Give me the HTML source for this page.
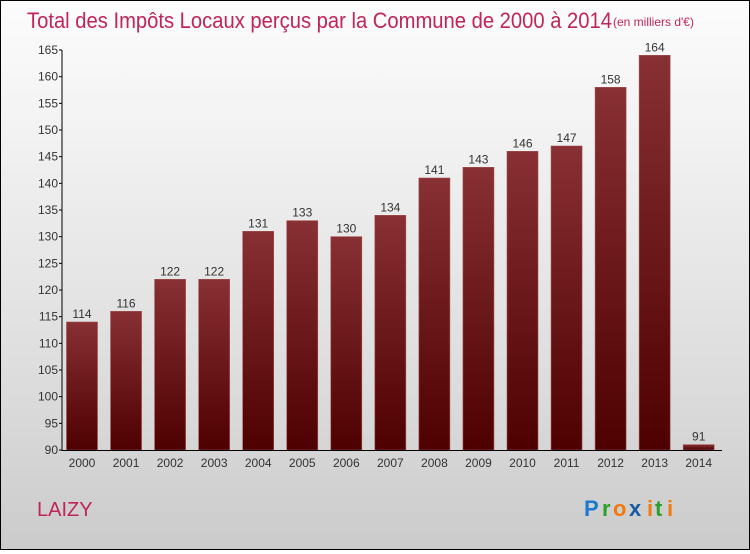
<!DOCTYPE html>
<html><head><meta charset="utf-8"><style>
body{margin:0}
#c{width:748px;height:548px;border:1px solid #000;background:linear-gradient(#fcfcfc,#f4f4f4 20%,#dcdcdc 70%,#cbcbcb);position:relative;font-family:"Liberation Sans",sans-serif}
</style></head><body>
<div id="c">
<svg id="s" width="748" height="548">
<text x="26" y="27" font-size="22" fill="#c0245a" textLength="585" lengthAdjust="spacingAndGlyphs">Total des Impôts Locaux perçus par la Commune de 2000 à 2014</text>
<text x="612" y="25" font-size="12" fill="#c0245a">(en milliers d'€)</text>
<text x="36" y="515" font-size="20" fill="#c0245a">LAIZY</text>
<g font-size="22" font-weight="bold" font-family="Liberation Sans,sans-serif"><text x="583" y="515" fill="#1a7ad0">P</text><text x="601" y="515" fill="#2aa02a">r</text><text x="612" y="515" fill="#f07a10">o</text><text x="628" y="515" fill="#1a5aa0">x</text><text x="646" y="515" fill="#f07a10">i</text><text x="654" y="515" fill="#2aa02a">t</text><text x="666" y="515" fill="#f07a10">i</text></g>
<g id="g"></g>
</svg></div>
<script>
const years=["2000","2001","2002","2003","2004","2005","2006","2007","2008","2009","2010","2011","2012","2013","2014"];
const values=[114,116,122,122,131,133,130,134,141,143,146,147,158,164,91];
const yTicks=[90,95,100,105,110,115,120,125,130,135,140,145,150,155,160,165];
const NS="http://www.w3.org/2000/svg",g=document.getElementById('g');
function y(v){return 449-(v-90)*400/75;}
function x(i){return 81+i*44.05;}
function el(t,a,txt){const e=document.createElementNS(NS,t);for(const k in a)e.setAttribute(k,a[k]);if(txt!=null)e.textContent=txt;g.appendChild(e);return e;}
const defs=el('defs',{});
defs.innerHTML='<linearGradient id="bg" x1="0" y1="0" x2="0" y2="1"><stop offset="0" stop-color="#883034"/><stop offset="1" stop-color="#4e0000"/></linearGradient>';
values.forEach((v,i)=>{
 const r=el('rect',{x:x(i)-15.5,y:y(v),width:31,height:449-y(v),fill:'url(#bg)',stroke:'#a05050','stroke-width':0.6});
 
 
 const t=el('text',{x:x(i),y:y(v)-4,'font-size':12,fill:'#333','text-anchor':'middle'},String(v));
 
 
 const xl=el('text',{x:x(i),y:466,'font-size':12,fill:'#333','text-anchor':'middle'},years[i]);
 
 
});
yTicks.forEach(v=>{
 el('line',{x1:58,x2:61,y1:y(v),y2:y(v),stroke:'#000'});
 const t=el('text',{x:57,y:y(v)+4,'font-size':12,fill:'#333','text-anchor':'end'},String(v));
 
 
});
const ya=el('line',{x1:61,x2:61,y1:y(165),y2:450,stroke:'#000'});


const xa=el('line',{x1:61,x2:721,y1:449.5,y2:449.5,stroke:'#000'});


</script>
</body></html>
